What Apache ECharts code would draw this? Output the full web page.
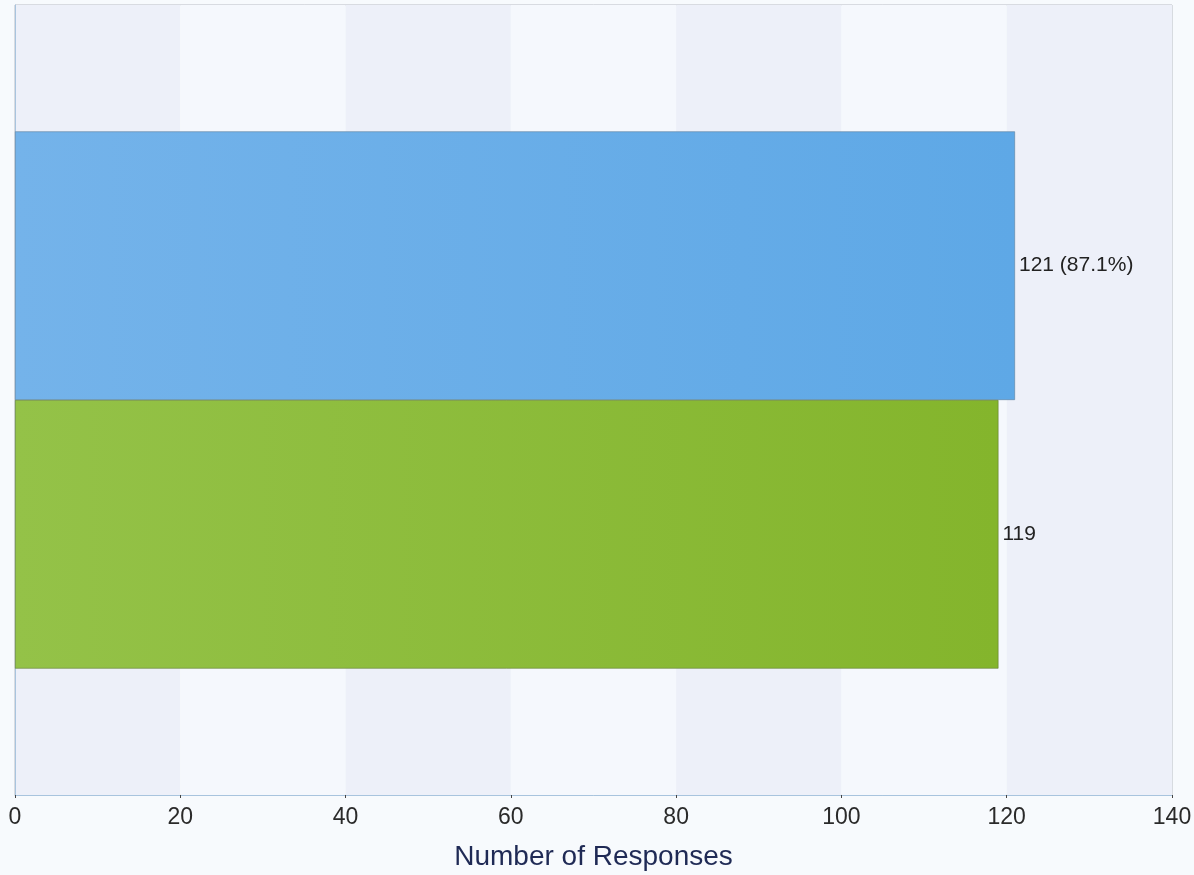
<!DOCTYPE html>
<html>
<head>
<meta charset="utf-8">
<script src="https://cdn.jsdelivr.net/npm/echarts@6/dist/echarts.min.js"></script>
<style>
html,body{margin:0;padding:0;background:#f7fafd;}
#chart{width:1194px;height:875px;}
</style>
</head>
<body>
<div id="chart"></div>
<script>
const categories = [''];
const blueValues = [121];
const bluePercent = ['87.1%'];
const greenValues = [119];
const xTicks = [0, 20, 40, 60, 80, 100, 120, 140];

const chart = echarts.init(document.getElementById('chart'));
chart.setOption({
  backgroundColor: '#f7fafd',
  animation: false,
  grid: {left: 15, right: 22, top: 5, bottom: 80, outerBoundsMode: 'none', containLabel: false,
    show: true, borderColor: '#b8bcc4', borderWidth: 1, backgroundColor: 'transparent'},
  xAxis: {
    type: 'value', min: xTicks[0], max: xTicks[xTicks.length - 1], interval: 20,
    axisLine: {show: true, lineStyle: {color: '#a8c4de', width: 1}},
    axisTick: {show: true, length: 3, lineStyle: {color: '#444'}},
    axisLabel: {color: '#2a2a2a', fontSize: 23, fontFamily: 'Liberation Sans, Arial', margin: 11},
    splitLine: {show: false},
    splitArea: {show: true, areaStyle: {color: ['#edf0f9', '#f5f8fd']}},
    name: 'Number of Responses', nameLocation: 'middle', nameGap: 48,
    nameTextStyle: {color: '#1f2a55', fontSize: 28, fontFamily: 'Liberation Sans, Arial'}
  },
  yAxis: {
    type: 'category', data: categories, inverse: true,
    axisLine: {show: true, lineStyle: {color: '#a8c4de'}},
    axisTick: {show: false}, axisLabel: {show: false}
  },
  series: [
    {
      type: 'bar', data: blueValues, barGap: '0%', barCategoryGap: '32%',
      itemStyle: {
        color: new echarts.graphic.LinearGradient(0, 0, 1, 0, [{offset: 0, color: '#74b3ea'}, {offset: 1, color: '#5ea8e6'}]),
        borderColor: '#5a7f9e', borderWidth: 0.6
      },
      label: {show: true, position: 'right', distance: 4, color: '#222', fontSize: 21, fontFamily: 'Liberation Sans, Arial',
        formatter: p => p.value + ' (' + bluePercent[p.dataIndex] + ')'}
    },
    {
      type: 'bar', data: greenValues, barGap: '0%', barCategoryGap: '32%',
      itemStyle: {
        color: new echarts.graphic.LinearGradient(0, 0, 1, 0, [{offset: 0, color: '#94c248'}, {offset: 1, color: '#84b52c'}]),
        borderColor: '#5e7a30', borderWidth: 0.6
      },
      label: {show: true, position: 'right', distance: 4, color: '#222', fontSize: 21, fontFamily: 'Liberation Sans, Arial'}
    }
  ]
});
</script>
</body>
</html>
